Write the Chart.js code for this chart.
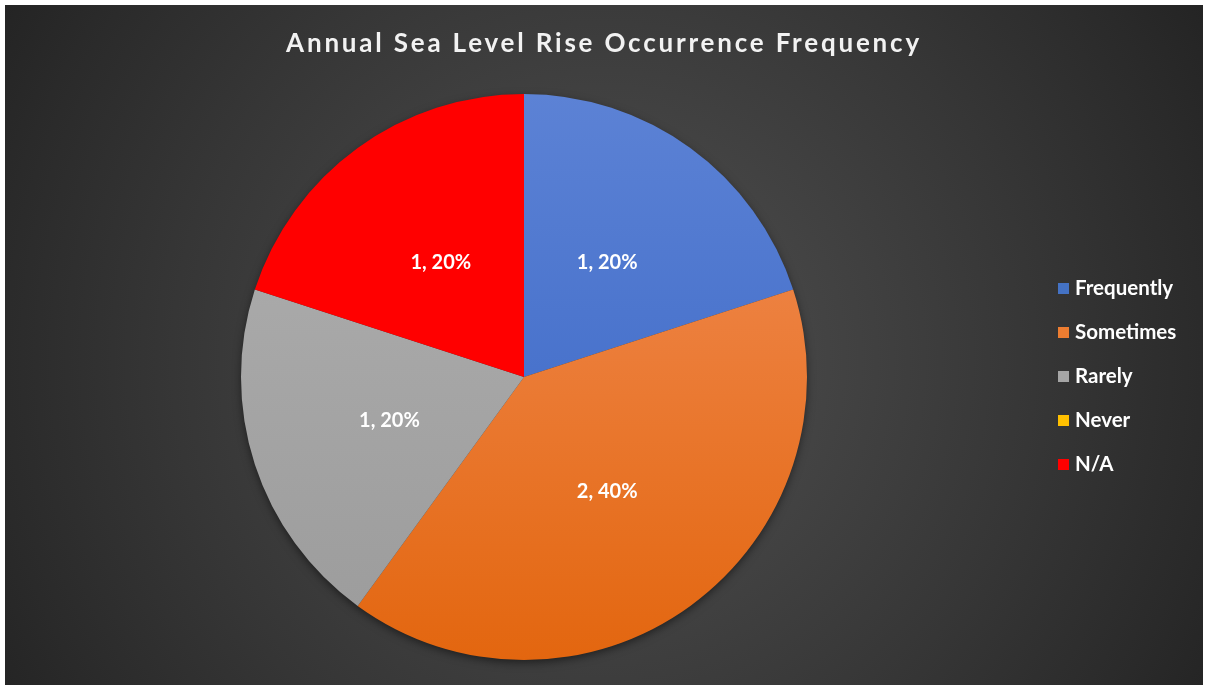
<!DOCTYPE html>
<html>
<head>
<meta charset="utf-8">
<script src="https://cdn.jsdelivr.net/npm/chart.js@4.4.1/dist/chart.umd.min.js"></script>
<style>
    html, body { margin: 0; padding: 0; background: #ffffff; }
    .frame {
        position: absolute;
        left: 5px; top: 5px;
        width: 1198px; height: 680px;
        background: radial-gradient(circle at 50% 52%, #4e4e4e 0%, #444444 30%, #363636 62%, #2a2a2a 88%, #242424 100%);
    }
</style>
</head>
<body>
<div class="frame"><canvas id="pie" width="1198" height="680"></canvas></div>
<script>
let chartTitle = 'Annual Sea Level Rise Occurrence Frequency';
let labels = ['Frequently', 'Sometimes', 'Rarely', 'Never', 'N/A'];
let counts = [1, 2, 1, 0, 1];
let topColors = ['#5c82d5', '#f28f5a', '#b0b0b0', '#ffc000', '#ff0000'];
let bottomColors = ['#3563c3', '#e3660f', '#9b9b9b', '#ffc000', '#ff0000'];
let swatches = ['#4472c4', '#ed7d31', '#a5a5a5', '#ffc000', '#ff0000'];

let total = counts.reduce((a, b) => a + b, 0);
let ctx = document.getElementById('pie');

// вертикальный градиент для каждого сектора
function sliceFill(c){
    let chart = c.chart;
    let area = chart.chartArea;
    let i = c.dataIndex;
    if(!area) return swatches[i];
    let g = chart.ctx.createLinearGradient(0, area.top, 0, area.bottom);
    g.addColorStop(0, topColors[i]);
    g.addColorStop(1, bottomColors[i]);
    return g;
}

// заголовок по центру всего холста (с разрядкой)
let wideTitle = {
    id: 'wideTitle',
    afterDraw(chart){
        let c = chart.ctx;
        c.save();
        c.letterSpacing = '2.8px';
        c.font = 'bold 26px Lato';
        c.fillStyle = '#f2f2f2';
        c.textAlign = 'center';
        c.textBaseline = 'middle';
        c.fillText(chartTitle, chart.width / 2, 39);
        c.restore();
    }
};

// тень под кругом
let pieShadow = {
    id: 'pieShadow',
    beforeDatasetsDraw(chart){
        let arc = chart.getDatasetMeta(0).data[0];
        if(!arc) return;
        let p = arc.getProps(['x', 'y', 'outerRadius'], true);
        let c = chart.ctx;
        c.save();
        c.shadowColor = 'rgba(0,0,0,0.55)';
        c.shadowBlur = 10;
        c.shadowOffsetY = 3;
        c.fillStyle = '#3a3a3a';
        c.beginPath();
        c.arc(p.x, p.y, p.outerRadius - 1, 0, Math.PI * 2);
        c.fill();
        c.restore();
    }
};

// подписи "значение, процент" и легенда справа
let sliceLabels = {
    id: 'sliceLabels',
    afterDatasetsDraw(chart){
        let c = chart.ctx;
        let meta = chart.getDatasetMeta(0);
        c.save();
        c.font = 'bold 20px Lato';
        c.fillStyle = '#ffffff';
        c.textAlign = 'center';
        c.textBaseline = 'middle';
        meta.data.forEach(function(arc, i){
            if(!counts[i]) return;
            let p = arc.getProps(['x', 'y', 'startAngle', 'endAngle', 'outerRadius'], true);
            let mid = (p.startAngle + p.endAngle) / 2;
            let r = p.outerRadius * 0.5;
            let pct = Math.round(counts[i] / total * 100);
            c.fillText(counts[i] + ', ' + pct + '%', p.x + Math.cos(mid) * r, p.y + Math.sin(mid) * r);
        });
        c.restore();
    },
    afterDraw(chart){
        let c = chart.ctx;
        c.save();
        c.font = 'bold 20.5px Lato';
        c.textAlign = 'left';
        c.textBaseline = 'middle';
        for(let i = 0; i < labels.length; i++){
            let y = 283 + i * 44;
            c.fillStyle = swatches[i];
            c.fillRect(1053, y - 5, 11, 11);
            c.fillStyle = '#ffffff';
            c.fillText(labels[i], 1070, y);
        }
        c.restore();
    }
};

new Chart(ctx, {
    type: 'pie',
    data: {
        labels: labels,
        datasets: [{
            data: counts,
            backgroundColor: sliceFill,
            borderWidth: 0
        }]
    },
    options: {
        responsive: false,
        animation: false,
        layout: { padding: { top: 89, left: 236, right: 396, bottom: 25 } },
        plugins: {
            legend: { display: false },
            tooltip: { enabled: false },
            title: { display: false }
        }
    },
    plugins: [pieShadow, sliceLabels, wideTitle]
});
</script>
</body>
</html>
